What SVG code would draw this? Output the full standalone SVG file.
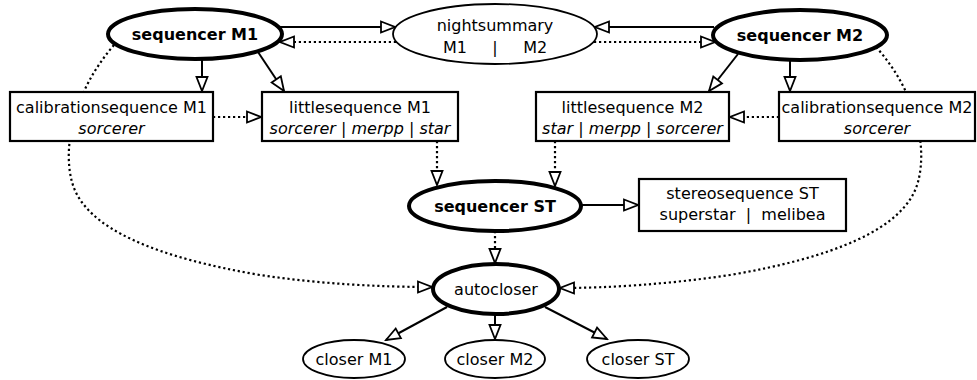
<svg xmlns="http://www.w3.org/2000/svg" width="977" height="380" viewBox="0 0 977 380">
<style>
text{font-family:"DejaVu Sans","Liberation Sans",sans-serif;font-size:16px;fill:#000;text-anchor:middle;white-space:pre}
.b{font-weight:bold}
.i{font-style:italic}
.bold{fill:#fff;stroke:#000;stroke-width:4}
.thin{fill:#fff;stroke:#000;stroke-width:1.8}
.box{fill:#fff;stroke:#000;stroke-width:2.2}
.e{fill:none;stroke:#000;stroke-width:2;marker-end:url(#ah)}
.d{stroke-width:2.2;stroke-dasharray:2.2 2.8}
</style>
<defs>
<marker id="ah" viewBox="-2 -2 18 15" refX="14" refY="5.5" markerWidth="18" markerHeight="15" markerUnits="userSpaceOnUse" orient="auto">
<path d="M0,0 L14,5.5 L0,11 Z" fill="#fff" stroke="#000" stroke-width="1.8" stroke-dasharray="none"/>
</marker>
</defs>
<rect width="977" height="380" fill="#fff"/>
<g id="edges">
<path class="e" d="M279,27 L395,27"/>
<path class="e d" d="M396,42 L280,42"/>
<path class="e" d="M714,27 L595,27"/>
<path class="e d" d="M594,42 L715,42"/>
<path class="e" d="M202,59 L202,91"/>
<path class="e" d="M258,52 L284,91"/>
<path class="e d" d="M213,117 L261,117"/>
<path class="e" d="M738,54 L709,91"/>
<path class="e" d="M790,60 L790,91"/>
<path class="e d" d="M779,117 L730,117"/>
<path class="e d" d="M437,141 L437,185"/>
<path class="e d" d="M555,141 L555,186"/>
<path class="e" d="M581,205 L638,205"/>
<path class="e d" d="M495,231 L495,263"/>
<path class="e d" d="M114,45 C75,90 62,145 72,182 C85,230 160,258 260,275 C320,284 380,287 432,287"/>
<path class="e d" d="M876,47 C915,90 928,145 918,182 C905,230 830,258 730,275 C670,284 610,288 560,288"/>
<path class="e" d="M447,307 L386,340"/>
<path class="e" d="M495,314 L495,339"/>
<path class="e" d="M545,307 L607,339"/>
</g>
<g id="seqM1"><ellipse class="bold" cx="195" cy="34" rx="87" ry="25"/><text class="b" x="195" y="40">sequencer M1</text></g>
<g id="nightsummary"><ellipse class="thin" cx="495" cy="34" rx="102" ry="30"/><text x="495" y="31">nightsummary</text><text x="495" y="53">M1     |     M2</text></g>
<g id="seqM2"><ellipse class="bold" cx="800" cy="35" rx="87" ry="25"/><text class="b" x="800" y="41">sequencer M2</text></g>
<g id="calM1"><rect class="box" x="10" y="92" width="203" height="49"/><text x="111.5" y="113">calibrationsequence M1</text><text class="i" x="111.5" y="134">sorcerer</text></g>
<g id="litM1"><rect class="box" x="262" y="92" width="196" height="49"/><text x="360" y="113">littlesequence M1</text><text x="360" y="134"><tspan class="i">sorcerer</tspan> | <tspan class="i">merpp</tspan> | <tspan class="i">star</tspan></text></g>
<g id="litM2"><rect class="box" x="536" y="92" width="193" height="49"/><text x="632.5" y="113">littlesequence M2</text><text x="632.5" y="134"><tspan class="i">star</tspan> | <tspan class="i">merpp</tspan> | <tspan class="i">sorcerer</tspan></text></g>
<g id="calM2"><rect class="box" x="779" y="92" width="196" height="49"/><text x="877" y="113">calibrationsequence M2</text><text class="i" x="877" y="134">sorcerer</text></g>
<g id="seqST"><ellipse class="bold" cx="495" cy="206" rx="86" ry="25"/><text class="b" x="495" y="212">sequencer ST</text></g>
<g id="stereoST"><rect class="box" x="639" y="179" width="207" height="52"/><text x="742.5" y="199">stereosequence ST</text><text x="742.5" y="220">superstar  |  melibea</text></g>
<g id="autocloser"><ellipse class="bold" cx="496" cy="289" rx="63" ry="25"/><text x="496" y="295">autocloser</text></g>
<g id="closerM1"><ellipse class="thin" cx="354" cy="359" rx="51" ry="19"/><text x="354" y="365">closer M1</text></g>
<g id="closerM2"><ellipse class="thin" cx="495" cy="359" rx="50" ry="19"/><text x="495" y="365">closer M2</text></g>
<g id="closerST"><ellipse class="thin" cx="638" cy="359" rx="51" ry="19"/><text x="638" y="365">closer ST</text></g>
</svg>
